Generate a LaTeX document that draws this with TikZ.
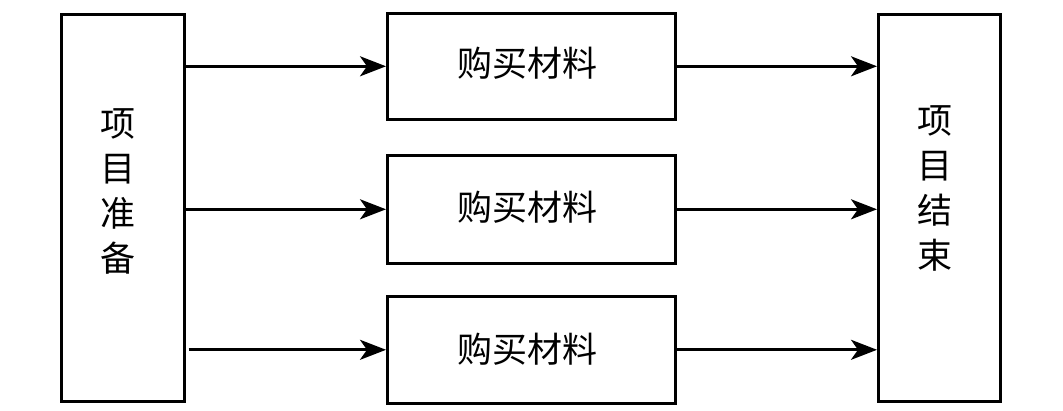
\documentclass[tikz,border=0pt]{standalone}
\usepackage{fontspec}
\newfontfamily\cjk{Noto Sans CJK SC}
\usetikzlibrary{arrows.meta}
\tikzset{
  box/.style={draw, line width=2.6pt, rectangle, inner sep=0pt, anchor=north west},
  lbl/.style={font=\cjk\fontsize{35pt}{45pt}\selectfont, align=center, inner sep=0pt},
  conn/.style={line width=2.6pt, -{Stealth[length=26pt, width=20pt, inset=7pt]}}
}
\begin{document}
\begin{tikzpicture}[x=1pt, y=-1pt]
\useasboundingbox (0,0) rectangle (1063,411);
\node[box, minimum width=123pt, minimum height=387pt] (L) at (60,13) {};
\node[box, minimum width=122pt, minimum height=387pt] (R) at (877,13) {};
\node[box, minimum width=288pt, minimum height=106pt] (M1) at (386,12) {};
\node[box, minimum width=288pt, minimum height=108pt] (M2) at (386,154) {};
\node[box, minimum width=288pt, minimum height=107pt] (M3) at (386,295) {};
\node[lbl] (LT) at (118,191) {项\\目\\准\\备};
\node[lbl] (RT) at (935,188) {项\\目\\结\\束};
\node[lbl] (T1) at ([xshift=-4pt,yshift=3pt]M1.center) {购买材料};
\node[lbl] (T2) at ([xshift=-4pt,yshift=2pt]M2.center) {购买材料};
\node[lbl] (T3) at ([xshift=-4pt,yshift=1pt]M3.center) {购买材料};
\draw[conn] (L.east |- M1.west) -- (M1.west);
\draw[conn] (L.east |- M2.west) -- (M2.west);
\draw[conn] ([xshift=3pt]L.east |- M3.west) -- (M3.west);
\draw[conn] (M1.east) -- (R.west |- M1.east);
\draw[conn] (M2.east) -- (R.west |- M2.east);
\draw[conn] (M3.east) -- (R.west |- M3.east);
\end{tikzpicture}
\end{document}
